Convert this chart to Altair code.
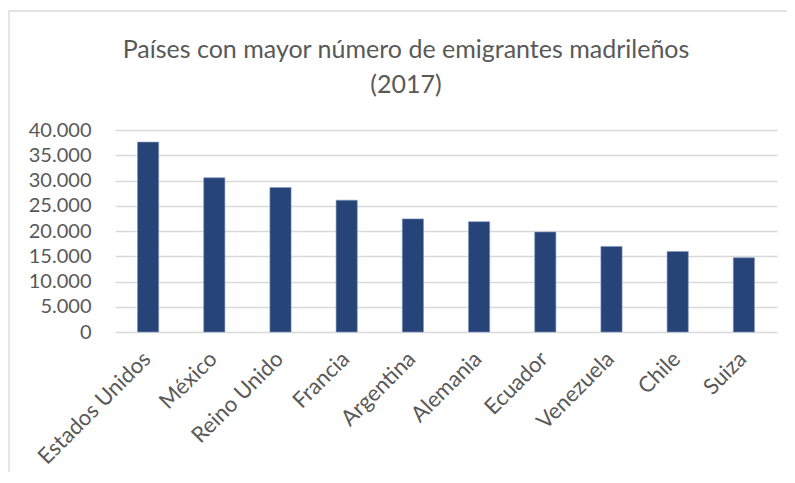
import altair as alt
import pandas as pd

paises = ["Estados Unidos", "México", "Reino Unido", "Francia", "Argentina",
          "Alemania", "Ecuador", "Venezuela", "Chile", "Suiza"]
emigrantes = [37600, 30550, 28600, 26100, 22400, 21850, 19800, 16950, 15950, 14700]
ticks = [0, 5000, 10000, 15000, 20000, 25000, 30000, 35000, 40000]
titulo = ["Países con mayor número de emigrantes madrileños", "(2017)"]

df = pd.DataFrame({"pais": paises, "valor": emigrantes})
df_titulo = pd.DataFrame({"texto": titulo, "linea": [0, 1]})

FONT = "Lato"
TXT = "#595959"

bars = alt.Chart(df).mark_bar(color="#264478", stroke="#8096bf", strokeWidth=0.6).encode(
    x=alt.X("pais:N", sort=paises, title=None,
            scale=alt.Scale(paddingInner=0.68, paddingOuter=0.34),
            axis=alt.Axis(labelAngle=-45, labelAlign="right", labelBaseline="middle",
                          labelFontSize=22, labelColor=TXT, labelFont=FONT,
                          ticks=False, domain=False, labelPadding=23, labelOverlap=False,
                          labelOffset=-1)),
    y=alt.Y("valor:Q", title=None,
            scale=alt.Scale(domain=[0, 40000], nice=False),
            axis=alt.Axis(values=ticks, labelFontSize=20, labelColor=TXT, labelFont=FONT,
                          labelExpr="replace(format(datum.value, ','), ',', '.')",
                          ticks=False, domain=False, labelPadding=24,
                          gridColor="#d9d9d9", gridWidth=1.3)),
)

frame = alt.Chart(alt.Data(values=[{"a": 1}])).mark_rect(
    fill=None, stroke="#d9d9d9", strokeWidth=1.3
).encode(
    x=alt.value(-106), x2=alt.value(720),
    y=alt.value(-119), y2=alt.value(400),
)

def title_line(idx, ypix):
    return alt.Chart(df_titulo).transform_filter(alt.datum.linea == idx).mark_text(
        font=FONT, fontSize=25, color=TXT, align="center", baseline="middle"
    ).encode(text="texto:N", x=alt.value(291), y=alt.value(ypix))

chart = alt.layer(frame, title_line(0, -80), title_line(1, -45), bars).properties(
    width=662, height=202,
    autosize=alt.AutoSizeParams(type="none"),
    padding={"left": 107, "top": 122, "right": 10, "bottom": 140},
).configure(background="white").configure_view(stroke=None)

chart.save("out.html", embed_options={"renderer": "svg", "actions": False})
